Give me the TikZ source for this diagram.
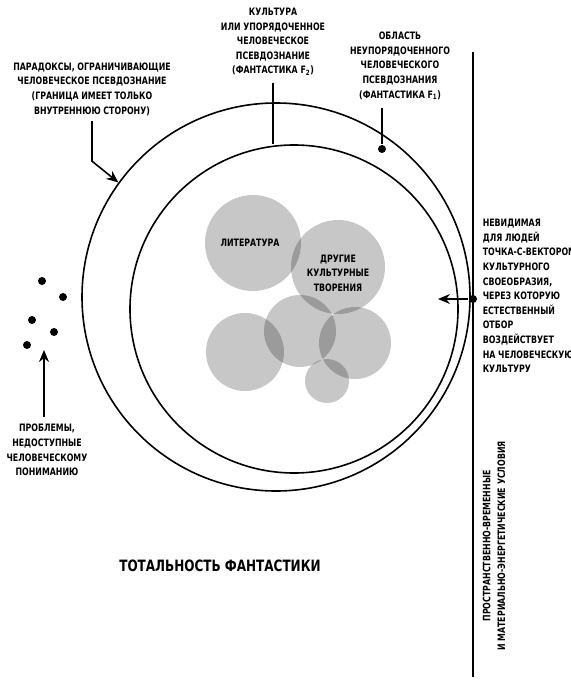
\documentclass[tikz,border=0pt]{standalone}
\usepackage{fontspec}
\newfontfamily\condfont{DejaVu Sans}[FakeStretch=0.77]
\usetikzlibrary{arrows.meta}

\tikzset{
  lbl/.style={align=center, inner sep=0pt,
    font=\condfont\bfseries\fontsize{10.2}{14.6}\selectfont},
  bigring/.style={circle, draw, line width=1.6pt, inner sep=0pt},
  blob/.style={fill=black, fill opacity=0.22},
  dotpt/.style={circle, fill, inner sep=0pt, minimum size=8pt},
}

\begin{document}
\begin{tikzpicture}[x=1pt, y=-1pt, line width=1.6pt, >={Stealth[length=12pt,width=10pt]}]
  \clip (0,0) rectangle (570,684);

  % the two rings
  \node[bigring, minimum size=388pt] (outer) at (276,297) {};
  \node[bigring, minimum size=328pt] (inner) at (294,309) {};

  % cultural creations
  \fill[blob] (253,243) circle [radius=48pt];
  \fill[blob] (338,267) circle [radius=47pt];
  \fill[blob] (245,352) circle [radius=39pt];
  \fill[blob] (300,331) circle [radius=36pt];
  \fill[blob] (355,343) circle [radius=36pt];
  \fill[blob] (327,381) circle [radius=22pt];

  \node[lbl] (lit) at (250,243) {ЛИТЕРАТУРА};
  \node[lbl] (other) at (338,273) {ДРУГИЕ\\КУЛЬТУРНЫЕ\\ТВОРЕНИЯ};

  % labels round the rings
  \node[lbl] (par) at (92,89) {ПАРАДОКСЫ, ОГРАНИЧИВАЮЩИЕ\\ЧЕЛОВЕЧЕСКОЕ ПСЕВДОЗНАНИЕ\\(ГРАНИЦА ИМЕЕТ ТОЛЬКО\\ВНУТРЕННЮЮ СТОРОНУ)};
  \node[lbl] (f2) at (273,42) {КУЛЬТУРА\\ИЛИ УПОРЯДОЧЕННОЕ\\ЧЕЛОВЕЧЕСКОЕ\\ПСЕВДОЗНАНИЕ\\(ФАНТАСТИКА F\textsubscript{2})};
  \node[lbl] (f1) at (400,66) {ОБЛАСТЬ\\НЕУПОРЯДОЧЕННОГО\\ЧЕЛОВЕЧЕСКОГО\\ПСЕВДОЗНАНИЯ\\(ФАНТАСТИКА F\textsubscript{1})};
  \node[lbl] (prob) at (47,450) {ПРОБЛЕМЫ,\\НЕДОСТУПНЫЕ\\ЧЕЛОВЕЧЕСКОМУ\\ПОНИМАНИЮ};
  \node[lbl, align=left, anchor=west] (vlbl) at (482,296) {НЕВИДИМАЯ\\ДЛЯ ЛЮДЕЙ\\ТОЧКА-С-ВЕКТОРОМ\\КУЛЬТУРНОГО\\СВОЕОБРАЗИЯ,\\ЧЕРЕЗ КОТОРУЮ\\ЕСТЕСТВЕННЫЙ\\ОТБОР\\ВОЗДЕЙСТВУЕТ\\НА ЧЕЛОВЕЧЕСКУЮ\\КУЛЬТУРУ};
  \node[lbl, rotate=90] (cond) at (494,546) {ПРОСТРАНСТВЕННО-ВРЕМЕННЫЕ\\И МАТЕРИАЛЬНО-ЭНЕРГЕТИЧЕСКИЕ УСЛОВИЯ};
  \node[lbl, font=\condfont\bfseries\fontsize{15.6}{19}\selectfont] (total) at (220,566) {ТОТАЛЬНОСТЬ ФАНТАСТИКИ};

  % problems out of reach
  \foreach \px/\py [count=\i] in {42/281, 63/297, 32/320, 54/332, 27/345}
    \node[dotpt] (pb\i) at (\px,\py) {};

  % pointers
  \coordinate (probtip) at (44,350);
  \draw[->] ([yshift=6pt]probtip |- prob.north) -- (probtip);
  \draw[->] ([yshift=-5pt]par.south) -- ++(0,40) -- (outer.144);
  \draw ([yshift=-6pt]f2.south) -- (f2.south |- inner.north);
  \coordinate (f1top) at (382,108);
  \node[dotpt] (f1dot) at (382,149) {};
  \draw (f1top) -- (f1dot);

  % boundary line
  \coordinate (vtop) at (473,52);
  \coordinate (vbot) at (473,677);
  \draw (vtop) -- (vbot);
  \node[dotpt] (vdot) at (473,299) {};
  \coordinate (vtip) at (438,299);
  \draw[->] (vdot) -- (vtip);
\end{tikzpicture}
\end{document}
